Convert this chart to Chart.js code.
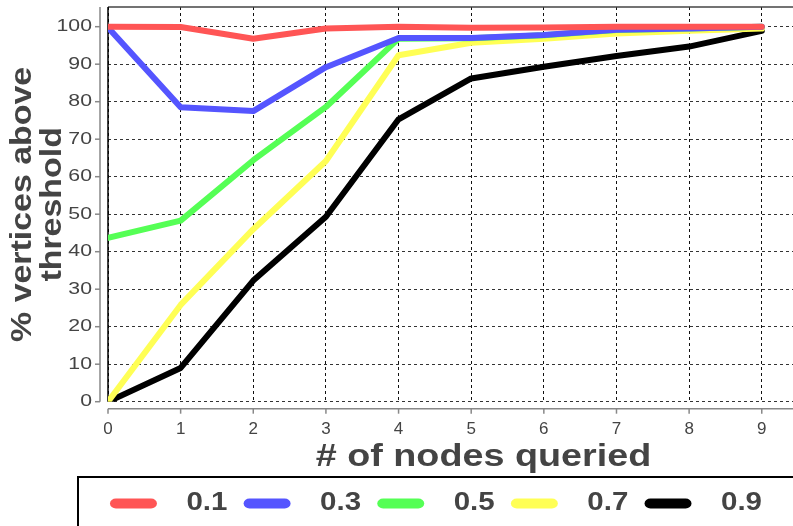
<!DOCTYPE html>
<html><head><meta charset="utf-8">
<script src="https://cdn.jsdelivr.net/npm/chart.js@4/dist/chart.umd.min.js"></script>
<style>html,body{margin:0;padding:0;background:#fff;overflow:hidden}</style>
</head><body>
<canvas id="c" width="793" height="526"></canvas>
<script>
// ---- data ----
const nodesQueried = [0, 1, 2, 3, 4, 5, 6, 7, 8, 9];
const thresholdLabels = ['0.1', '0.3', '0.5', '0.7', '0.9'];
const series01 = [100, 99.9, 96.8, 99.5, 100, 99.7, 99.8, 100, 100, 100];
const series03 = [99.8, 78.5, 77.5, 89.2, 97.0, 97.0, 97.8, 99.2, 99.5, 100];
const series05 = [43.7, 48.3, 64.4, 78.6, 96.8, 96.9, 97.7, 99.1, 99.5, 100];
const series07 = [0, 25.8, 46.0, 64.2, 92.4, 95.7, 96.8, 98.2, 98.9, 99.5];
const series09 = [0, 9.0, 32.3, 49.3, 75.3, 86.2, 89.3, 92.2, 94.7, 98.9];
const xTickValues = [0, 1, 2, 3, 4, 5, 6, 7, 8, 9];
const yTickValues = [0, 10, 20, 30, 40, 50, 60, 70, 80, 90, 100];
const seriesColors = ['#ff5555', '#5555ff', '#55ff55', '#ffff55', '#000000'];
const allSeries = [series01, series03, series05, series07, series09];

Chart.defaults.font.family = "'Liberation Sans', Arial, sans-serif";
const STRETCH = 1.18;

const datasets = allSeries.map((s, i) => ({
  label: thresholdLabels[i],
  data: s.map((v, j) => ({x: nodesQueried[j], y: v})),
  borderColor: seriesColors[i],
  backgroundColor: seriesColors[i],
  borderWidth: 6,
  borderCapStyle: 'round',
  borderJoinStyle: 'round',
  pointRadius: 0,
  tension: 0
}));

function wrapOnce(obj, name, fn) {
  if (obj['_w_' + name]) return;
  obj['_w_' + name] = true;
  const orig = obj[name];
  obj[name] = function (...args) { return fn.call(this, orig, args); };
}

const frameAndAxes = {
  id: 'frameAndAxes',
  afterLayout(chart) {
    const lg = chart.legend;
    lg.left = chart.chartArea.left - 28.5;
    wrapOnce(lg, 'draw', function (orig, args) {
      const ctx = this.ctx; ctx.save(); ctx.scale(STRETCH, 1);
      orig.apply(this, args); ctx.restore();
    });
  },
  beforeDatasetsDraw(chart) {
    const {ctx, chartArea: a} = chart;
    ctx.save();
    ctx.lineWidth = 1.5;
    ctx.strokeStyle = '#444';
    ctx.beginPath(); ctx.moveTo(a.left, a.top); ctx.lineTo(a.right, a.top); ctx.stroke();
    ctx.strokeStyle = '#000';
    ctx.beginPath(); ctx.moveTo(a.left, a.bottom); ctx.lineTo(a.left, a.top); ctx.stroke();
    ctx.restore();
  },
  afterDraw(chart) {
    const {ctx, chartArea: a, scales: {x, y}} = chart;
    ctx.save();
    ctx.strokeStyle = '#888';
    ctx.lineWidth = 1.5;
    // y axis (offset)
    const ax = a.left - 8;
    ctx.beginPath(); ctx.moveTo(ax, a.top); ctx.lineTo(ax, y.getPixelForValue(0)); ctx.stroke();
    yTickValues.forEach(v => {
      const py = y.getPixelForValue(v);
      ctx.beginPath(); ctx.moveTo(ax - 5, py); ctx.lineTo(ax, py); ctx.stroke();
    });
    // x axis (offset)
    const ay = a.bottom + 7;
    ctx.beginPath(); ctx.moveTo(x.getPixelForValue(0), ay); ctx.lineTo(a.right, ay); ctx.stroke();
    xTickValues.forEach(v => {
      const px = x.getPixelForValue(v);
      ctx.beginPath(); ctx.moveTo(px, ay); ctx.lineTo(px, ay + 5); ctx.stroke();
    });
    // legend frame
    const lg = chart.legend;
    ctx.strokeStyle = '#000';
    ctx.lineWidth = 2;
    ctx.strokeRect(a.left - 30, lg.top - 0.3, 800, 80);
    ctx.restore();
  }
};

new Chart(document.getElementById('c'), {
  type: 'line',
  data: {datasets},
  plugins: [frameAndAxes],
  options: {
    responsive: false,
    animation: false,
    layout: {padding: {top: 7, left: 0, right: 0, bottom: 0}},
    plugins: {
      tooltip: {enabled: false},
      legend: {
        position: 'bottom',
        align: 'start',
        fullSize: true,
        labels: {
          boxWidth: 39.8,
          boxHeight: 10,
          useBorderRadius: true,
          borderRadius: 5,
          padding: 13.7,
          color: '#444',
          font: {size: 25, weight: 'bold'},
          generateLabels: (chart) => Chart.defaults.plugins.legend.labels.generateLabels(chart)
            .map(l => Object.assign({}, l, {text: '\u2002' + l.text, lineWidth: 0, fillStyle: l.strokeStyle}))
        }
      }
    },
    scales: {
      x: {
        type: 'linear',
        min: 0,
        max: 9.43,
        afterBuildTicks: s => { s.ticks = xTickValues.map(v => ({value: v})); },
        ticks: {padding: 17, color: '#444', font: {size: 17}, maxRotation: 0, autoSkip: false},
        grid: {color: '#111', lineWidth: 1, drawTicks: false, borderDash: [3, 3]},
        border: {display: false, dash: [3, 3]},
        title: {
          display: true, text: '# of nodes queried', color: '#444',
          font: {size: 32, weight: 'bold', lineHeight: 1}, padding: {top: 0, bottom: 4.3}
        },
        afterFit: s => {
          s.height = 75.6; s.paddingLeft = 0; s.paddingRight = 0;
          wrapOnce(s, 'drawTitle', function (orig, args) {
            const ctx = this.ctx; const c = (this.left + this.right) / 2;
            ctx.save(); ctx.translate(c + 33, 0); ctx.scale(STRETCH, 1); ctx.translate(-c, 0);
            orig.apply(this, args); ctx.restore();
          });
        }
      },
      y: {
        min: 0,
        max: 105.25,
        afterBuildTicks: s => { s.ticks = yTickValues.map(v => ({value: v})); },
        ticks: {padding: 16, color: '#444', font: {size: 17}},
        grid: {color: '#333', lineWidth: 1, drawTicks: false, borderDash: [3, 3]},
        border: {display: false, dash: [3, 3]},
        title: {
          display: true, text: ['% vertices above', 'threshold'], color: '#444',
          font: {size: 30, weight: 'bold', lineHeight: 1}, padding: {top: 7.5, bottom: 0}
        },
        afterFit: s => {
          s.width = 108; s.paddingTop = 0; s.paddingBottom = 0;
          wrapOnce(s, 'drawLabels', function (orig, args) {
            const ctx = this.ctx; const p = this.right - 16;
            ctx.save(); ctx.translate(p, 0); ctx.scale(1.25, 1); ctx.translate(-p, 0);
            orig.apply(this, args); ctx.restore();
          });
          wrapOnce(s, 'drawTitle', function (orig, args) {
            const ctx = this.ctx; const c = (this.top + this.bottom) / 2;
            ctx.save(); ctx.translate(0, c); ctx.scale(1, 1.13); ctx.translate(0, -c);
            orig.apply(this, args); ctx.restore();
          });
        }
      }
    }
  }
});
</script>
</body></html>
